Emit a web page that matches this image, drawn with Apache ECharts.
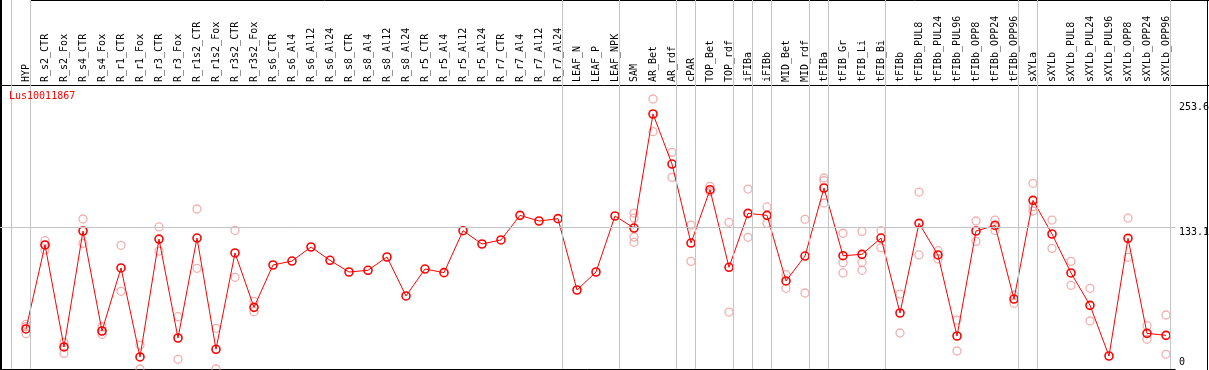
<!DOCTYPE html>
<html><head><meta charset="utf-8">
<script src="https://cdn.jsdelivr.net/npm/echarts@6/dist/echarts.min.js"></script>
<style>html,body{margin:0;padding:0;background:#fff}#c{width:1209px;height:370px}</style>
</head><body><div id="c"></div>
<script>
const title = 'Lus10011867';
const categories = ['HYP','R_s2_CTR','R_s2_Fox','R_s4_CTR','R_s4_Fox','R_r1_CTR','R_r1_Fox','R_r3_CTR','R_r3_Fox','R_r1s2_CTR','R_r1s2_Fox','R_r3s2_CTR','R_r3s2_Fox','R_s6_CTR','R_s6_Al4','R_s6_Al12','R_s6_Al24','R_s8_CTR','R_s8_Al4','R_s8_Al12','R_s8_Al24','R_r5_CTR','R_r5_Al4','R_r5_Al12','R_r5_Al24','R_r7_CTR','R_r7_Al4','R_r7_Al12','R_r7_Al24','LEAF_N','LEAF_P','LEAF_NPK','SAM','AR_Bet','AR_rdf','cPAR','TOP_Bet','TOP_rdf','iFIBa','iFIBb','MID_Bet','MID_rdf','tFIBa','tFIB_Gr','tFIB_Li','tFIB_Bi','tFIBb','tFIBb_PUL8','tFIBb_PUL24','tFIBb_PUL96','tFIBb_OPP8','tFIBb_OPP24','tFIBb_OPP96','sXYLa','sXYLb','sXYLb_PUL8','sXYLb_PUL24','sXYLb_PUL96','sXYLb_OPP8','sXYLb_OPP24','sXYLb_OPP96'];
const means = [37.6,116.5,20.7,129.6,35.7,94.9,11.3,122,29.1,123,18.5,109,57.9,97.7,101.4,114.6,102.1,91.1,92.7,105.2,68.6,93.9,90.5,129.9,117.4,121.2,144.3,139,141.2,74.2,91.1,143.7,132.4,239.5,192.5,118.3,168.4,95.5,146.2,144.3,82.7,106.1,170,106.4,107.7,123,52.6,136.8,107.1,31,129.6,134.9,65.7,158.4,126.8,90.2,59.8,12.2,122.7,33.5,31.6];
const rep1 = [42,120.5,25,140.9,39.7,116.2,22.5,133.4,49.1,150.3,38.2,130.2,63.6,null,null,null,null,null,null,null,null,null,null,null,null,null,null,null,null,null,null,null,146.5,253.6,203.5,135.2,171.6,137.8,169,152.2,88.6,140.6,179.4,127.5,129.3,129.9,70.4,166.2,111.1,46,139,139.9,69.5,174.4,139.9,101.1,75.8,null,141.8,40.7,50.7];
const rep2 = [33.2,111.8,14.7,118,32.6,73,0,110.8,9.1,94.6,0,86.1,53.8,null,null,null,null,null,null,null,null,null,null,null,null,null,null,null,null,null,null,null,119,222.9,180,101.1,166.5,53.5,123.7,136.8,75.8,71.4,155.9,90.2,92.7,114,33.8,107.1,103.3,16.9,119.9,130.2,61.7,148.4,113.3,78.6,45.1,null,104.9,27.9,13.8];
const rep3 = [39.7,116.5,null,null,35.7,null,null,null,null,null,null,null,null,null,null,null,null,null,null,null,null,null,null,null,null,null,null,null,null,null,null,null,141.8,null,null,null,null,null,null,null,null,null,176.9,99.8,100.2,null,null,null,null,null,null,null,null,152.5,null,null,null,null,null,null,null];
const rep4 = [null,null,null,null,null,null,null,null,null,null,null,null,null,null,null,null,null,null,null,null,null,null,null,null,null,null,null,null,null,null,null,null,124,null,null,null,null,null,null,null,null,null,null,null,null,null,null,null,null,null,null,null,null,null,null,null,null,null,null,null,null];
const groupBreaksAfter = [-1,0,28,31,34,35,37,38,39,41,42,45,52,53,60];
const yTickLabels = [0,133.1,253.6];

const FONT = '"DejaVu Sans Mono", "Liberation Mono", monospace';
const plotLeft = 0, plotRight = 1175.5, plotTop = 99, plotBottom = 369;
const firstCenter = 26, step = 19;
const xMin = -(firstCenter - plotLeft) / step;
const xMax = xMin + (plotRight - plotLeft) / step;
const yTop = yTickLabels[yTickLabels.length - 1];
const yMax = yTop * plotBottom / (plotBottom - plotTop);

const repData = [];
[rep1, rep2, rep3, rep4].forEach(arr => arr.forEach((v, i) => { if (v !== null) repData.push([i, v]); }));
const meanData = means.map((v, i) => [i, v]);

const chart = echarts.init(document.getElementById('c'), null, {renderer: 'canvas'});
chart.setOption({
  animation: false,
  backgroundColor: '#ffffff',
  title: {text: title, left: 9, top: 91, padding: 0,
    textStyle: {color: '#ff0000', fontSize: 10, fontWeight: 'normal', fontFamily: FONT}},
  grid: [
    {left: plotLeft, right: 1209 - plotRight, top: 0, height: plotBottom},
    {left: plotLeft + firstCenter - step / 2, right: 1209 - plotRight, top: 85, height: plotBottom - 85}
  ],
  xAxis: [
    {type: 'value', gridIndex: 0, min: xMin, max: xMax, show: false},
    {type: 'category', gridIndex: 1, position: 'top', data: categories, boundaryGap: true,
      axisLine: {show: false}, axisTick: {show: false}, splitLine: {show: false},
      axisLabel: {rotate: 90, interval: 0, margin: 3, fontSize: 10, fontFamily: FONT, color: '#000'}}
  ],
  yAxis: [
    {type: 'value', gridIndex: 0, min: 0, max: yMax, show: false},
    {type: 'value', gridIndex: 1, show: false}
  ],
  series: [
    {type: 'scatter', xAxisIndex: 0, yAxisIndex: 0, data: [], z: 1, silent: true,
      markLine: {silent: true, symbol: ['none', 'none'], label: {show: false},
        lineStyle: {color: '#c4c4c4', width: 1, type: 'solid'},
        data: groupBreaksAfter.map(b => ({xAxis: b + 0.24})).concat([{yAxis: yTickLabels[1]}])}},
    {type: 'scatter', xAxisIndex: 0, yAxisIndex: 0, data: repData, z: 2, clip: false,
      symbol: 'circle', symbolSize: 8,
      itemStyle: {color: 'rgba(0,0,0,0)', borderColor: '#ef9a9a', borderWidth: 1.3}},
    {type: 'line', xAxisIndex: 0, yAxisIndex: 0, data: meanData, z: 3, clip: false,
      symbol: 'circle', symbolSize: 8, showAllSymbol: true,
      lineStyle: {color: '#ff0000', width: 1},
      itemStyle: {color: 'rgba(0,0,0,0)', borderColor: '#ff0000', borderWidth: 1.6}}
  ]
});

const labelOffsets = [-7, 5, 8];
const graphics = [
  {type: 'line', shape: {x1: 1, y1: 0, x2: 1, y2: 370}, style: {stroke: '#000', lineWidth: 2}},
  {type: 'line', shape: {x1: 30, y1: 0.5, x2: 1209, y2: 0.5}, style: {stroke: '#000', lineWidth: 1}},
  {type: 'line', shape: {x1: 1207.5, y1: 0, x2: 1207.5, y2: 370}, style: {stroke: '#000', lineWidth: 1}},
  {type: 'line', shape: {x1: 0, y1: 85.5, x2: 1209, y2: 85.5}, style: {stroke: '#000', lineWidth: 1}},
  {type: 'line', shape: {x1: 0, y1: plotBottom + 0.5, x2: plotRight, y2: plotBottom + 0.5}, style: {stroke: '#000', lineWidth: 1}}
];
yTickLabels.forEach((v, k) => {
  const py = chart.convertToPixel({gridIndex: 0}, [0, v])[1];
  graphics.push({type: 'text', x: plotRight + 3.5, y: py + labelOffsets[k],
    style: {text: String(v), fill: '#000', font: '10px ' + FONT, textAlign: 'left', textVerticalAlign: 'middle'}});
});
chart.setOption({graphic: graphics});
</script></body></html>
